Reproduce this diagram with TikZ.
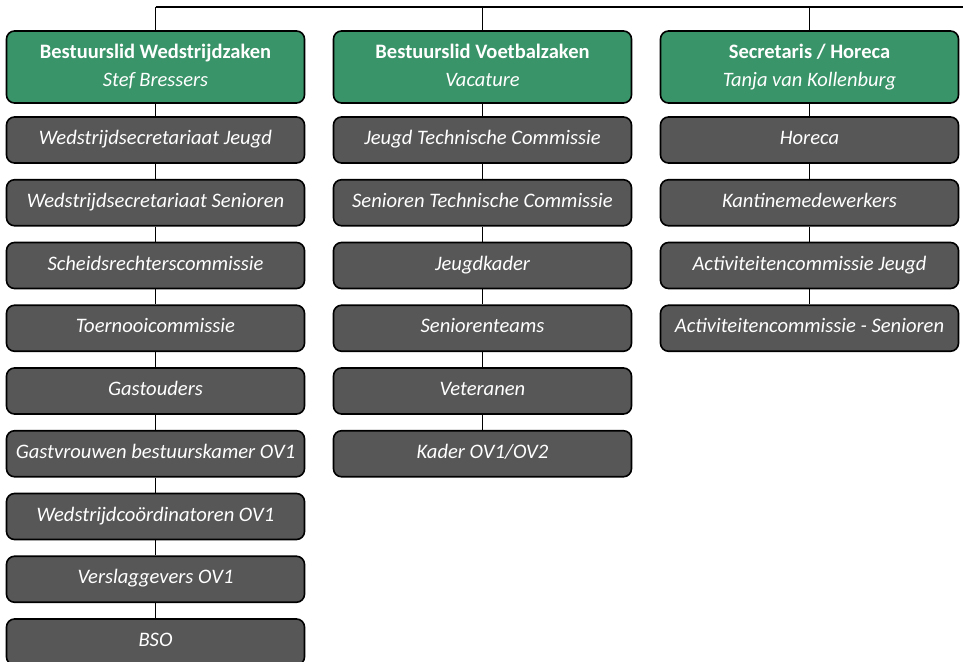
\documentclass[tikz,border=0pt]{standalone}
\usepackage{fontspec}
\setmainfont{Carlito}
\definecolor{hgreen}{HTML}{3A9469}
\definecolor{dgrey}{HTML}{575757}
\tikzset{
  box/.style={draw=black, line width=1.6pt, rounded corners=8pt, text=white, align=center, minimum width=298pt, inner sep=0pt},
  headbox/.style={box, fill=hgreen, minimum height=72pt, font=\fontsize{20.5}{28}\selectfont},
  itembox/.style={box, fill=dgrey, minimum height=46pt, text height=15pt, text depth=6pt, font=\fontsize{20.6}{24}\selectfont\itshape},
  link/.style={draw=black, line width=1.8pt}
}
\begin{document}
\begin{tikzpicture}[x=1pt,y=-1pt]
\useasboundingbox (0,0) rectangle (963,661);
\coordinate (topL) at (155.5,7);
\coordinate (topR) at (963,7);
\coordinate (t1) at (155.5,7);
\coordinate (t2) at (482.5,7);
\coordinate (t3) at (809.5,7);
\draw[link] (topL) -- (topR);
% headers
\node[headbox] (h1) at (155.5,67) {\strut\textbf{Bestuurslid Wedstrijdzaken}\\\strut\textit{Stef Bressers}};
\node[headbox] (h2) at (482.5,67) {\strut\textbf{Bestuurslid Voetbalzaken}\\\strut\textit{Vacature}};
\node[headbox] (h3) at (809.5,67) {\strut\textbf{Secretaris / Horeca}\\\strut\textit{Tanja van Kollenburg}};
\foreach \i in {1,2,3} \draw[link] (t\i) -- (h\i.north);
% column 1
\foreach \t [count=\k] in {Wedstrijdsecretariaat Jeugd, Wedstrijdsecretariaat Senioren, Scheidsrechterscommissie, Toernooicommissie, Gastouders, Gastvrouwen bestuurskamer OV1, Wedstrijdcoördinatoren OV1, Verslaggevers OV1, BSO}
  \node[itembox] (a\k) at (155.5,{140+62.75*(\k-1)}) {\t};
\draw[link] (h1.south) -- (a1.north);
\foreach \k [evaluate=\k as \n using int(\k+1)] in {1,...,8} \draw[link] (a\k.south) -- (a\n.north);
% column 2
\foreach \t [count=\k] in {Jeugd Technische Commissie, Senioren Technische Commissie, Jeugdkader, Seniorenteams, Veteranen, Kader OV1/OV2}
  \node[itembox] (b\k) at (482.5,{140+62.75*(\k-1)}) {\t};
\draw[link] (h2.south) -- (b1.north);
\foreach \k [evaluate=\k as \n using int(\k+1)] in {1,...,5} \draw[link] (b\k.south) -- (b\n.north);
% column 3
\foreach \t [count=\k] in {Horeca, Kantinemedewerkers, Activiteitencommissie Jeugd, Activiteitencommissie - Senioren}
  \node[itembox] (c\k) at (809.5,{140+62.75*(\k-1)}) {\t};
\draw[link] (h3.south) -- (c1.north);
\foreach \k [evaluate=\k as \n using int(\k+1)] in {1,...,3} \draw[link] (c\k.south) -- (c\n.north);
\end{tikzpicture}
\end{document}
